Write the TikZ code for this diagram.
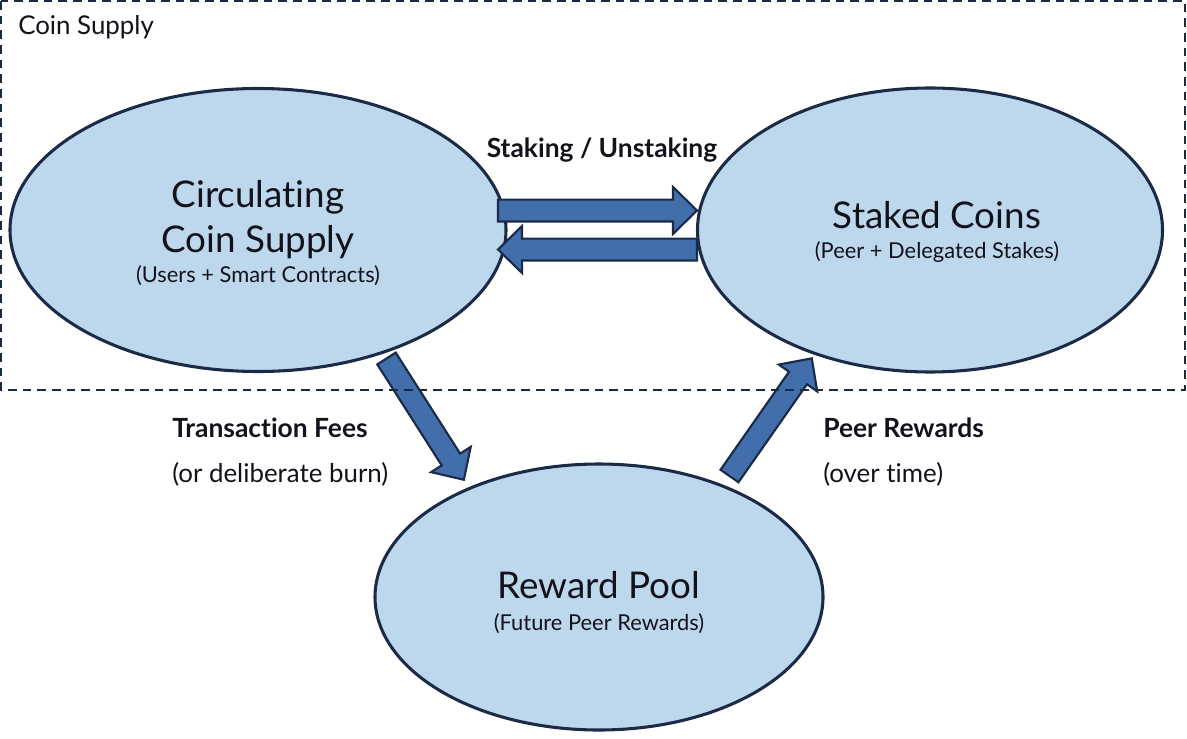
\documentclass[tikz,border=0pt]{standalone}
\usepackage{fontspec}
\setmainfont{Lato}[Ligatures={NoCommon}]
\usetikzlibrary{calc,shapes.geometric}

\definecolor{poolfill}{RGB}{189,216,236}
\definecolor{navyline}{RGB}{27,42,70}
\definecolor{arrowfill}{RGB}{66,110,172}
\definecolor{inktext}{RGB}{18,18,28}

\tikzset{
  pool/.style={ellipse, draw=navyline, line width=2.3pt, fill=poolfill, inner sep=0pt},
  flowarr/.style={draw=navyline, line width=1.6pt, fill=arrowfill, line join=miter},
  bigtxt/.style={font=\fontsize{27.6}{32}\selectfont, text=inktext, inner sep=0pt},
  subtxt/.style={font=\fontsize{16.4}{19}\selectfont, text=inktext, inner sep=0pt},
  lbltxt/.style={font=\fontsize{19.8}{23}\selectfont\bfseries, text=inktext, inner sep=0pt},
  notetxt/.style={font=\fontsize{19.4}{23}\selectfont, text=inktext, inner sep=0pt}
}

% block arrow from tail centre to tip
\newcommand{\flowarrow}[2]{%
  \draw[flowarr] let \p1=($(#2)-(#1)$), \n1={atan2(\y1,\x1)}, \n2={veclen(\x1,\y1)} in
    [shift={(#1)}, rotate=\n1]
    (0pt,-8.2pt) -- (\n2-18pt,-8.2pt) -- (\n2-18pt,-17.6pt) -- (\n2,0pt)
    -- (\n2-18pt,17.6pt) -- (\n2-18pt,8.2pt) -- (0pt,8.2pt) -- cycle;}

\begin{document}
\begin{tikzpicture}[x=0.75pt, y=-0.75pt]
\useasboundingbox (0,0) rectangle (1187,738);

% the three pools
\node[pool, minimum width=496*0.75pt, minimum height=283*0.75pt] (circ) at (258,230) {};
\node[pool, minimum width=465*0.75pt, minimum height=284*0.75pt] (staked) at (930,230) {};
\node[pool, minimum width=448*0.75pt, minimum height=266*0.75pt] (reward) at (599,597) {};

\node[bigtxt, anchor=base] (circ-a) at (258,207) {Circulating};
\node[bigtxt, anchor=base] (circ-b) at (258,252) {Coin Supply};
\node[subtxt, anchor=base] (circ-c) at (258,282) {(Users + Smart Contracts)};

\node[bigtxt, anchor=base] (staked-a) at (937,228) {Staked Coins};
\node[subtxt, anchor=base] (staked-b) at (937,258) {(Peer + Delegated Stakes)};

\node[bigtxt, anchor=base] (reward-a) at (599,598) {Reward Pool};
\node[subtxt, anchor=base] (reward-b) at (599,630) {(Future Peer Rewards)};

% arrows
\coordinate (stake-s) at (498,210.5);
\coordinate (stake-e) at (697,210.5);
\coordinate (unstake-s) at (697,249.5);
\coordinate (unstake-e) at (498,249.5);
\coordinate (fee-s) at (386.5,358.5);
\coordinate (fee-e) at (464,480);
\coordinate (peer-s) at (729.5,476);
\coordinate (peer-e) at (812,358);

\flowarrow{stake-s}{stake-e}
\flowarrow{unstake-s}{unstake-e}
\flowarrow{fee-s}{fee-e}
\flowarrow{peer-s}{peer-e}

\node[lbltxt, anchor=base] (stake-lbl) at (602,157) {Staking / Unstaking};
\node[lbltxt, anchor=base west] (fee-lbl) at (172,437) {Transaction Fees};
\node[notetxt, anchor=base west] (fee-note) at (172,482) {(or deliberate burn)};
\node[lbltxt, anchor=base west] (peer-lbl) at (823,437) {Peer Rewards};
\node[notetxt, anchor=base west] (peer-note) at (823,482) {(over time)};

% coin supply frame
\draw[navyline, line width=1.5pt, dash pattern=on 6.5pt off 4.5pt] (1,1) rectangle (1185,390);
\node[notetxt, anchor=base west] (supply-lbl) at (18,35) {Coin Supply};

\end{tikzpicture}
\end{document}
